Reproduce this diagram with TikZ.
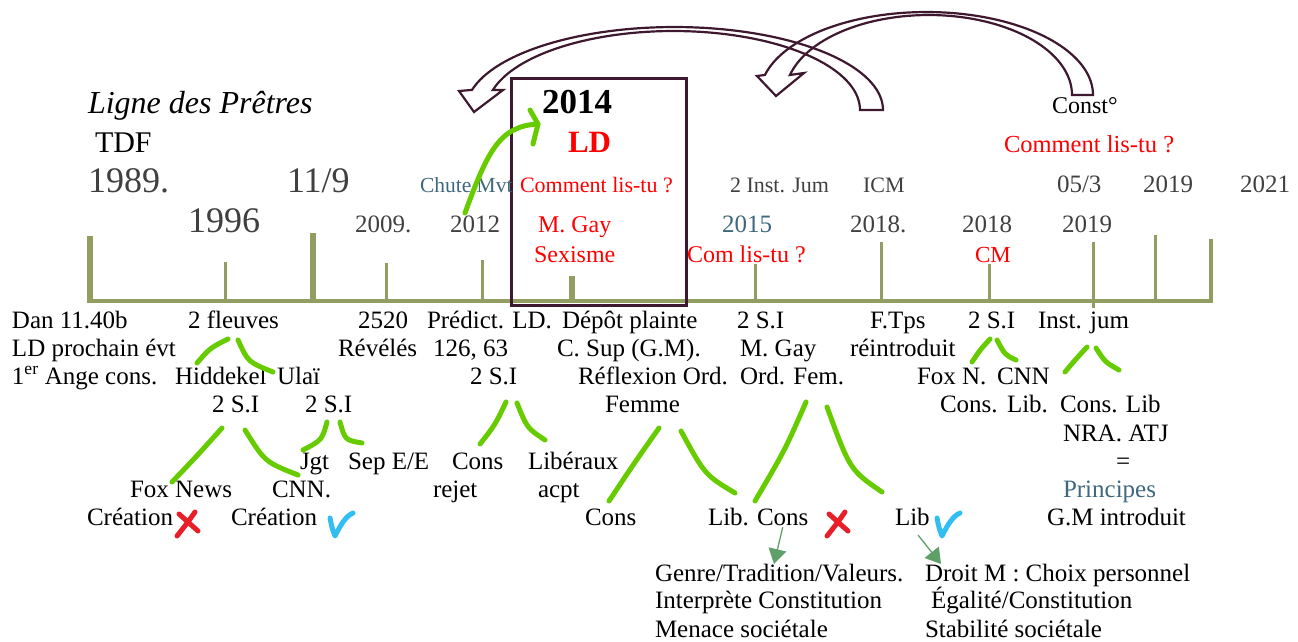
\documentclass[tikz,border=0pt]{standalone}
\usepackage{fontspec}
\setmainfont{Liberation Serif}
\usetikzlibrary{arrows.meta}
\newcommand\fsz[1]{\fontsize{#1}{#1}\selectfont}
\definecolor{dgray}{RGB}{64,64,64}
\definecolor{tealc}{RGB}{62,104,124}
\definecolor{olivec}{RGB}{146,157,98}
\definecolor{maroonc}{RGB}{62,24,46}
\definecolor{lgreen}{RGB}{102,204,0}
\definecolor{dgreen}{RGB}{95,160,105}
\definecolor{xred}{RGB}{232,30,40}
\definecolor{cblue}{RGB}{50,190,240}
\begin{document}
\begin{tikzpicture}[x=1pt,y=-1pt,
  t/.style={anchor=base west,inner sep=0pt,outer sep=0pt,font=\fsz{25}},
  big/.style={t,font=\fsz{36},text=dgray},
  dt/.style={t,font=\fsz{25},text=dgray},
  sm/.style={t,font=\fsz{22},text=dgray},
  rd/.style={t,font=\fsz{24},text=red},
  tl/.style={t,text=tealc},
  thk/.style={draw=olivec,line width=6pt},
  thn/.style={draw=olivec,line width=3pt},
  band/.style={draw=maroonc,line width=2.2pt,line join=miter},
  gs/.style={draw=lgreen,line width=5pt,line cap=round,line join=round},
  rx/.style={draw=xred,line width=5pt,line cap=round},
  bc/.style={draw=cblue,line width=5pt,line cap=round,line join=round},
  ga/.style={draw=dgreen,line width=1.3pt,-{Triangle[length=15pt,width=18pt]}}]
\useasboundingbox (0,0) rectangle (1298,641);

% curved block arrows
\draw[band] plot[domain=0:166,samples=70,variable=\t] ({674.4+208.6*cos(\t)},{110-83*sin(\t)})
  -- (459,91) -- (474,112) -- (503,90)
  -- plot[domain=165.3:0,samples=70,variable=\t] ({673.4+186.6*cos(\t)},{110-79*sin(\t)}) -- cycle;
\draw[band] plot[domain=0:166,samples=70,variable=\t] ({926.5+166.5*cos(\t)},{95-83*sin(\t)})
  -- (757,76) -- (776,96) -- (804,73)
  -- plot[domain=165.5:0,samples=70,variable=\t] ({928.7+143.3*cos(\t)},{95-80*sin(\t)}) -- cycle;

% timeline
\draw[draw=olivec,line width=4pt] (88,301) coordinate (tl0) -- (1213,301) coordinate (tl1);
\draw[thk] (90,236) -- (90,303);
\draw[thn] (225,262) -- (225,301);
\draw[thk] (313,233) -- (313,299);
\draw[thn] (386,263) -- (386,301);
\draw[thn] (482,260) -- (482,301);
\draw[thk] (572,276) -- (572,301);
\draw[thn] (755,264) -- (755,301);
\draw[thn] (881,242) -- (881,301);
\draw[thn] (989,264) -- (989,301);
\draw[thn] (1093,242) -- (1093,308);
\draw[thn] (1155,235) -- (1155,301);
\draw[draw=olivec,line width=4pt] (1211,239) -- (1211,303);

% box 2014
\draw[draw=maroonc,line width=3pt] (511,78) rectangle (686,305);

% top texts
\node[t,font=\fsz{32}\itshape] (lp) at (88,113) {Ligne des Prêtres};
\node[t,font=\fsz{30}] (tdf) at (95,152) {TDF};
\node[big] (d1989) at (88,192) {1989.};
\node[big] (d119) at (287,192) {11/9};
\node[big] (d1996) at (188,232) {1996};
\node[dt] (d2009) at (355,232) {2009.};
\node[dt] (d2012) at (450,232) {2012};
\node[tl,font=\fsz{21.5}] (chute) at (420,192) {Chute Mvt};
\node[t,font=\fsz{35}\bfseries] (d2014) at (542,113) {2014};
\node[t,font=\fsz{31}\bfseries,text=red] (ld) at (568,152) {LD};
\node[rd,font=\fsz{22}] (cl1) at (520,192) {Comment lis-tu ?};
\node[rd] (mgay) at (538,232) {M. Gay};
\node[rd] (sex) at (534,262) {Sexisme};
\node[sm] (inst) at (730,192) {2 Inst. Jum};
\node[sm] (icm) at (863,192) {ICM};
\node[tl] (d2015) at (722,232) {2015};
\node[rd] (cl2) at (687,262) {Com lis-tu ?};
\node[dt] (d2018a) at (850,232) {2018.};
\node[t,font=\fsz{24}] (const) at (1052,113) {Const°};
\node[rd,font=\fsz{24.5}] (cl3) at (1004,152) {Comment lis-tu ?};
\node[dt] (d053) at (1057,192) {05/3};
\node[dt] (d2019a) at (1143,192) {2019};
\node[dt] (d2021) at (1240,192) {2021};
\node[dt] (d2018b) at (962,232) {2018};
\node[rd,font=\fsz{23}] (cm) at (975,262) {CM};
\node[dt] (d2019b) at (1062,232) {2019};

% green arrow 2012 -> 2014
\draw[gs] (465,213) coordinate (ga0) .. controls (488,150) and (500,126) .. (538,124) coordinate (ga1);
\draw[gs] (530,110) -- (ga1) -- (533,144);

% bottom texts
\node[t] (n1) at (12,328) {Dan 11.40b};
\node[t] (n2) at (12,356) {LD prochain évt};
\node[t] (n3) at (12,384) {1\textsuperscript{er} Ange cons.};
\node[t] (n4) at (188,328) {2 fleuves};
\node[t] (n5) at (175,384) {Hiddekel};
\node[t] (n6) at (277,384) {Ulaï};
\node[t] (n7) at (212,412) {2 S.I};
\node[t] (n8) at (305,412) {2 S.I};
\node[t] (n9) at (358,328) {2520};
\node[t] (n10) at (338,356) {Révélés};
\node[t] (n11) at (300,469) {Jgt};
\node[t] (n12) at (348,469) {Sep E/E};
\node[t] (n13) at (130,497) {Fox News};
\node[t] (n14) at (272,497) {CNN.};
\node[t] (n15) at (87,525) {Création};
\node[t] (n16) at (231,525) {Création};
\node[t] (n17) at (427,328) {Prédict. LD.};
\node[t] (n18) at (433,356) {126, 63};
\node[t] (n19) at (470,384) {2 S.I};
\node[t] (n20) at (562,328) {Dépôt plainte};
\node[t] (n21) at (557,356) {C. Sup (G.M).};
\node[t] (n22) at (578,384) {Réflexion Ord.};
\node[t] (n23) at (605,412) {Femme};
\node[t] (n24) at (737,328) {2 S.I};
\node[t] (n25) at (740,356) {M. Gay};
\node[t] (n26) at (740,384) {Ord. Fem.};
\node[t] (n27) at (452,469) {Cons};
\node[t] (n28) at (433,497) {rejet};
\node[t] (n29) at (528,469) {Libéraux};
\node[t] (n30) at (538,497) {acpt};
\node[t] (n31) at (585,525) {Cons};
\node[t] (n32) at (708,525) {Lib.};
\node[t] (n33) at (757,525) {Cons};
\node[t] (n34) at (870,328) {F.Tps};
\node[t] (n35) at (850,356) {réintroduit};
\node[t] (n36) at (968,328) {2 S.I};
\node[t] (n37) at (1038,328) {Inst. jum};
\node[t] (n38) at (917,384) {Fox N.};
\node[t] (n39) at (997,384) {CNN};
\node[t] (n40) at (940,412) {Cons.};
\node[t] (n41) at (1007,412) {Lib.};
\node[t] (n42) at (1060,412) {Cons. Lib};
\node[t] (n43) at (1063,441) {NRA. ATJ};
\node[t] (n44) at (1116,469) {=};
\node[tl] (n45) at (1063,497) {Principes};
\node[t] (n46) at (1047,525) {G.M introduit};
\node[t] (n47) at (895,525) {Lib};
\node[t] (n48) at (655,581) {Genre/Tradition/Valeurs.};
\node[t] (n49) at (925,581) {Droit M : Choix personnel};
\node[t] (n50) at (655,608) {Interprète Constitution};
\node[t] (n51) at (931,608) {Égalité/Constitution};
\node[t] (n52) at (655,637) {Menace sociétale};
\node[t] (n53) at (925,637) {Stabilité sociétale};

% green branch strokes
\draw[gs] (228,339) .. controls (210,348) .. (197,363);
\draw[gs] (238,340) .. controls (248,362) .. (273,372);
\draw[gs] (222,428) .. controls (195,458) .. (172,482);
\draw[gs] (245,430) .. controls (265,462) .. (298,475);
\draw[gs] (327,422) .. controls (322,440) .. (303,450);
\draw[gs] (340,422) .. controls (345,440) .. (362,443);
\draw[gs] (506,402) .. controls (495,425) .. (480,444);
\draw[gs] (517,403) .. controls (527,428) .. (545,440);
\draw[gs] (659,428) .. controls (635,462) .. (609,501);
\draw[gs] (681,431) .. controls (705,475) .. (735,493);
\draw[gs] (806,402) .. controls (785,450) .. (755,501);
\draw[gs] (827,407) .. controls (850,470) .. (882,492);
\draw[gs] (990,339) .. controls (980,350) .. (972,362);
\draw[gs] (997,340) .. controls (1005,355) .. (1016,360);
\draw[gs] (1087,347) .. controls (1075,360) .. (1065,372);
\draw[gs] (1096,348) .. controls (1105,362) .. (1119,370);

% crosses and checks
\draw[rx] (179,514) -- (198,531);
\draw[rx] (195,512) .. controls (188,522) .. (177,536);
\draw[rx] (829,514) -- (848,531);
\draw[rx] (845,512) .. controls (838,522) .. (827,536);
\draw[bc] (330,518) .. controls (332,528) .. (335,536) .. controls (341,524) and (346,516) .. (353,513);
\draw[bc] (937,518) .. controls (939,528) .. (942,536) .. controls (948,524) and (953,516) .. (960,513);

% small dark green arrows
\draw[ga] (n33.south) ++(0,2) coordinate (a1) -- (774,564);
\draw[ga] (918,535) coordinate (a2) -- (941,564);
\end{tikzpicture}
\end{document}
